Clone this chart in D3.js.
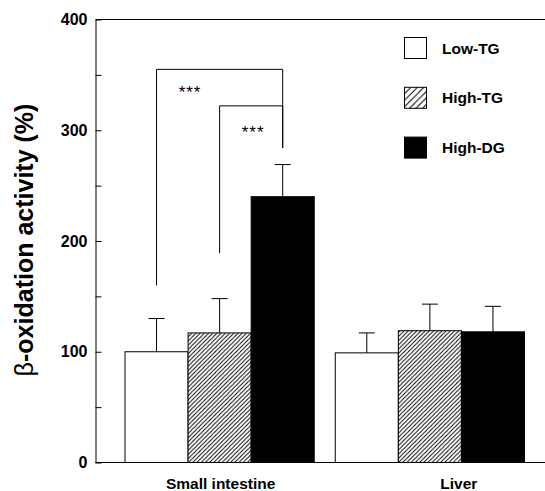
<!DOCTYPE html>
<html>
<head>
<meta charset="utf-8">
<script src="https://cdn.jsdelivr.net/npm/d3@7"></script>
<style>
  body { margin: 0; background: #fff; }
  svg { display: block; font-family: "Liberation Sans", Arial, Helvetica, sans-serif; }
</style>
</head>
<body>
<script>
// data
var categories = ["Small intestine", "Liver"];
var series = ["Low-TG", "High-TG", "High-DG"];
var lowTG = [100, 99];
var highTG = [117, 119];
var highDG = [240, 118];
var lowTGerr = [30, 18];
var highTGerr = [31, 24];
var highDGerr = [29, 23];
var yTicks = [0, 50, 100, 150, 200, 250, 300, 350, 400];

// significance brackets (small intestine): from series -> High-DG
var bracketFrom = ["Low-TG", "High-TG"];
var bracketTop = [355, 322];
var bracketFoot = [160, 189];
var bracketRightFoot = 284;
var bracketLabel = ["***", "***"];
var starLevel = [338, 301];

var svgWidth = 545;
var svgHeight = 491;

var svg = d3.select("body")
  .append("svg")
  .attr("width", svgWidth)
  .attr("height", svgHeight);

var defs = svg.append("defs");

function hatch(id, s) {
  var p = defs.append("pattern")
    .attr("id", id)
    .attr("patternUnits", "userSpaceOnUse")
    .attr("width", s)
    .attr("height", s);
  p.append("rect").attr("width", s).attr("height", s).attr("fill", "#fff");
  p.append("path")
    .attr("d", `M0,${s} L${s},0 M${-s / 4},${s / 4} L${s / 4},${-s / 4} M${s * 3 / 4},${s * 5 / 4} L${s * 5 / 4},${s * 3 / 4}`)
    .attr("stroke", "#000")
    .attr("stroke-width", 1);
}
hatch("hatchBar", 4.2);
hatch("hatchKey", 6.5);

var fills = {
  "Low-TG": "#fff",
  "High-TG": "url(#hatchBar)",
  "High-DG": "#000"
};
var keyFills = {
  "Low-TG": "#fff",
  "High-TG": "url(#hatchKey)",
  "High-DG": "#000"
};

// scales
var axisX = 95.5;
var yScale = d3.scaleLinear().domain([0, 400]).range([462.5, 19.5]);

var x0 = d3.scaleBand()
  .domain(categories)
  .range([125, 524.5])
  .paddingInner(0.1)
  .paddingOuter(0);

var x1 = d3.scaleBand()
  .domain(series)
  .range([0, x0.bandwidth()])
  .padding(0);

var values = { "Low-TG": lowTG, "High-TG": highTG, "High-DG": highDG };
var errors = { "Low-TG": lowTGerr, "High-TG": highTGerr, "High-DG": highDGerr };

var rows = [];
categories.forEach(function(c, i) {
  series.forEach(function(s) {
    rows.push({ cat: c, ser: s, val: values[s][i], err: errors[s][i] });
  });
});

// frame: top line
svg.append("line")
  .attr("x1", axisX).attr("x2", svgWidth)
  .attr("y1", yScale(400)).attr("y2", yScale(400))
  .attr("stroke", "#000");

// bars
svg.append("g").selectAll("rect")
  .data(rows)
  .enter()
  .append("rect")
  .attr("x", d => x0(d.cat) + x1(d.ser))
  .attr("y", d => yScale(d.val))
  .attr("width", x1.bandwidth())
  .attr("height", d => yScale(0) - yScale(d.val))
  .attr("fill", d => fills[d.ser])
  .attr("stroke", "#000")
  .attr("stroke-width", 1);

// error bars
var eb = svg.append("g").attr("stroke", "#000").attr("stroke-width", 1);
rows.forEach(function(d) {
  var cx = x0(d.cat) + x1(d.ser) + x1.bandwidth() / 2;
  eb.append("line")
    .attr("x1", cx).attr("x2", cx)
    .attr("y1", yScale(d.val)).attr("y2", yScale(d.val + d.err));
  eb.append("line")
    .attr("x1", cx - 8).attr("x2", cx + 8)
    .attr("y1", yScale(d.val + d.err)).attr("y2", yScale(d.val + d.err));
});

// significance brackets
var cat0 = categories[0];
function barCenter(s) {
  return x0(cat0) + x1(s) + x1.bandwidth() / 2;
}
var br = svg.append("g");
bracketFrom.forEach(function(s, i) {
  var xl = barCenter(s);
  var xr = barCenter("High-DG");
  br.append("path")
    .attr("d", `M${xl},${yScale(bracketFoot[i])} V${yScale(bracketTop[i])} H${xr} V${yScale(bracketRightFoot)}`)
    .attr("fill", "none")
    .attr("stroke", "#000")
    .attr("stroke-width", 1);
  var next = series[series.indexOf(s) + 1];
  br.append("text")
    .attr("x", (xl + barCenter(next)) / 2 + 2)
    .attr("y", yScale(starLevel[i]))
    .attr("dy", "0.55em")
    .attr("text-anchor", "middle")
    .style("font-size", "17px")
    .style("letter-spacing", "1px")
    .text(bracketLabel[i]);
});

// y axis, ticks pointing inward
var leftAxis = d3.axisLeft(yScale)
  .tickValues(yTicks)
  .tickSizeInner(-6)
  .tickSizeOuter(0)
  .tickPadding(8)
  .tickFormat(d => d % 100 === 0 ? d : "");

var yAxisG = svg.append("g")
  .attr("transform", `translate(${axisX},0)`)
  .call(leftAxis);
yAxisG.selectAll("text")
  .style("font-size", "16px")
  .style("font-weight", "bold")
  .attr("font-family", null);
yAxisG.selectAll("line, path").attr("stroke", "#000");

// x axis baseline
svg.append("line")
  .attr("x1", axisX).attr("x2", svgWidth)
  .attr("y1", yScale(0)).attr("y2", yScale(0))
  .attr("stroke", "#000");

var bottomAxis = d3.axisBottom(x0).tickSize(0).tickPadding(15);
var xAxisG = svg.append("g")
  .attr("transform", `translate(0,${yScale(0)})`)
  .call(bottomAxis);
xAxisG.select(".domain").remove();
xAxisG.selectAll("text")
  .style("font-size", "15.5px")
  .style("font-weight", "bold")
  .attr("font-family", null)
  .attr("dx", d => d === "Liver" ? 29 : 1);

// y axis title
var yTitle = svg.append("text")
  .attr("transform", "translate(33,240) rotate(-90)")
  .attr("text-anchor", "middle")
  .style("font-size", "25px")
  .style("font-weight", "bold");
yTitle.append("tspan").style("font-weight", "normal").text("β");
yTitle.append("tspan").text("-oxidation activity (%)");

// legend
var legend = svg.append("g").selectAll("g")
  .data(series)
  .enter()
  .append("g")
  .attr("transform", (d, i) => `translate(404.5,${37.5 + i * 49.8})`);

legend.append("rect")
  .attr("width", 22)
  .attr("height", 21)
  .attr("fill", d => keyFills[d])
  .attr("stroke", "#000");

legend.append("text")
  .attr("x", 37.5)
  .attr("y", 10.5)
  .attr("dy", "0.36em")
  .style("font-size", "15.5px")
  .style("font-weight", "bold")
  .text(d => d);
</script>
</body>
</html>
